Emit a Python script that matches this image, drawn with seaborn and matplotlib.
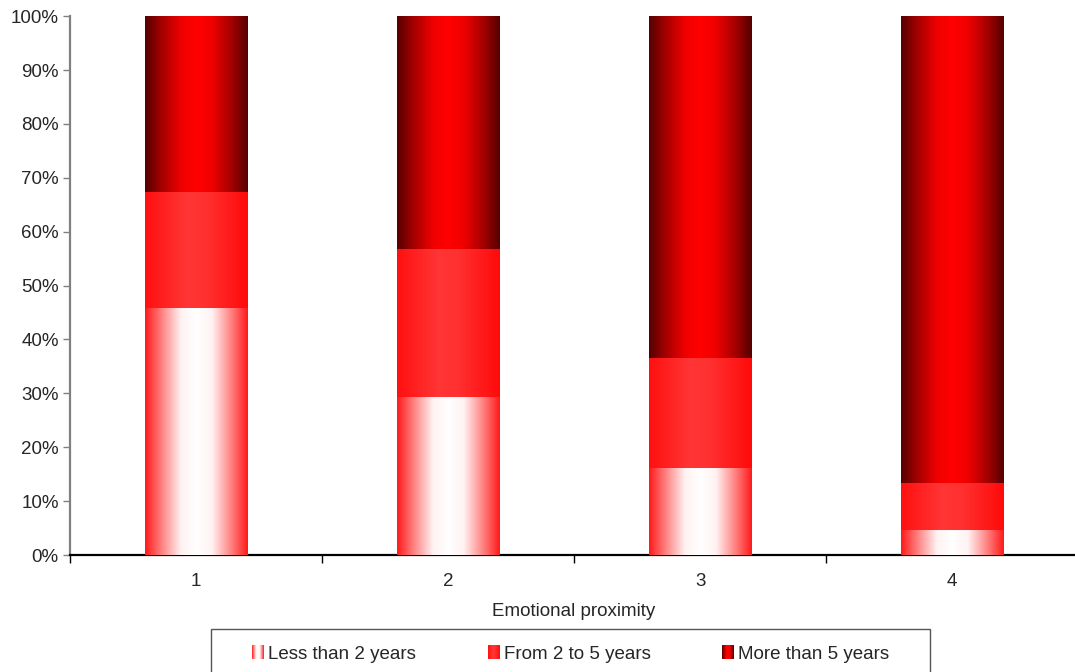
import numpy as np
import pandas as pd
import seaborn as sns
import matplotlib.pyplot as plt
from matplotlib.colors import LinearSegmentedColormap
from matplotlib.legend_handler import HandlerBase
from matplotlib.patches import Rectangle

# data (percent of each bar)
groups = ["1", "2", "3", "4"]
series = ["Less than 2 years", "From 2 to 5 years", "More than 5 years"]
less_2 = [45.8, 29.3, 16.0, 4.6]
from_2_5 = [21.4, 27.3, 20.4, 8.6]
more_5 = [32.8, 43.4, 63.6, 86.8]

df = pd.DataFrame({"group": groups, series[0]: less_2, series[1]: from_2_5, series[2]: more_5})
df["c1"] = df[series[0]]
df["c2"] = df["c1"] + df[series[1]]
df["c3"] = df["c2"] + df[series[2]]

# gradient colours: edge -> centre -> edge
grads = {
    series[0]: [(0, "#ff1a1a"), (0.15, "#ff7a7a"), (0.35, "#fff2f2"), (0.5, "#ffffff"),
                (0.65, "#fff2f2"), (0.85, "#ff7a7a"), (1, "#ff1a1a")],
    series[1]: [(0, "#ff1010"), (0.4, "#ff3535"), (0.6, "#ff3030"), (1, "#ff0a0a")],
    series[2]: [(0, "#550000"), (0.15, "#a00000"), (0.35, "#f00000"), (0.5, "#ff0000"),
                (0.65, "#f00000"), (0.85, "#a00000"), (1, "#550000")],
}
cmaps = {k: LinearSegmentedColormap.from_list(k, v) for k, v in grads.items()}

sns.set_style("white")
plt.rcParams["font.family"] = ["Liberation Sans", "DejaVu Sans"]

fig = plt.figure(figsize=(10.75, 6.72), dpi=100)
ax = fig.add_axes([0.065, 0.174, 0.938, 0.802])

# stacked bars: draw cumulative totals, tallest first
for col in ["c3", "c2", "c1"]:
    sns.barplot(data=df, x="group", y=col, color="red", width=0.405, ax=ax, errorbar=None)

# replace flat fill by horizontal gradient
layer_names = [series[2], series[1], series[0]]
grad = np.linspace(0, 1, 256).reshape(1, -1)
for i, p in enumerate(ax.patches):
    name = layer_names[i // len(groups)]
    x0, y0 = p.get_x(), p.get_y()
    w, h = p.get_width(), p.get_height()
    ax.imshow(grad, cmap=cmaps[name], aspect="auto", extent=[x0, x0 + w, y0, y0 + h],
              zorder=2 + i // len(groups), interpolation="bilinear")
    p.set_visible(False)

ax.set_xlim(-0.5, 3.5)
ax.set_ylim(0, 100)
ax.set_yticks(np.arange(0, 101, 10))
ax.set_yticklabels([f"{v}%" for v in range(0, 101, 10)])

# category labels centred, ticks on the boundaries
ax.set_xticks([-0.5, 0.5, 1.5, 2.5, 3.5], labels=[])
ax.set_xticks(range(len(groups)), labels=groups, minor=True)
ax.tick_params(axis="x", which="major", direction="out", length=6, width=1, color="black", bottom=True)
ax.tick_params(axis="x", which="minor", length=0, pad=13, labelsize=13.5)
ax.tick_params(axis="y", direction="out", length=5, width=1, color="#808080", left=True, labelsize=13.5, pad=3)

ax.set_xlabel("Emotional proximity", fontsize=13.5, labelpad=9)
ax.set_ylabel("")

sns.despine(ax=ax, top=True, right=True)
ax.spines["left"].set_color("#808080")
ax.spines["left"].set_linewidth(1.6)
ax.spines["bottom"].set_color("black")
ax.spines["bottom"].set_linewidth(1.6)


class GradHandler(HandlerBase):
    def __init__(self, cmap):
        super().__init__()
        self.cmap = cmap

    def create_artists(self, legend, orig_handle, xdescent, ydescent, width, height, fontsize, trans):
        n = 12
        arts = []
        for k in range(n):
            c = self.cmap((k + 0.5) / n)
            r = Rectangle((xdescent + width * k / n, ydescent), width / n, height,
                          facecolor=c, edgecolor="none", transform=trans)
            arts.append(r)
        return arts


handles = [Rectangle((0, 0), 1, 1) for _ in series]
hmap = {h: GradHandler(cmaps[s]) for h, s in zip(handles, series)}
leg = fig.legend(handles, series, handler_map=hmap, loc="center", bbox_to_anchor=(0.531, 0.026),
                 ncol=3, fontsize=13.5, frameon=False,
                 handlelength=0.65, handleheight=0.75, handletextpad=0.22, columnspacing=3.8,
                 borderpad=0.0, borderaxespad=0.0)

# legend box
fig.patches.append(Rectangle((0.196, -0.01), 0.669, 0.074, transform=fig.transFigure,
                             facecolor="none", edgecolor="#555555", linewidth=1.0))

fig.savefig("out.png", dpi=100)
